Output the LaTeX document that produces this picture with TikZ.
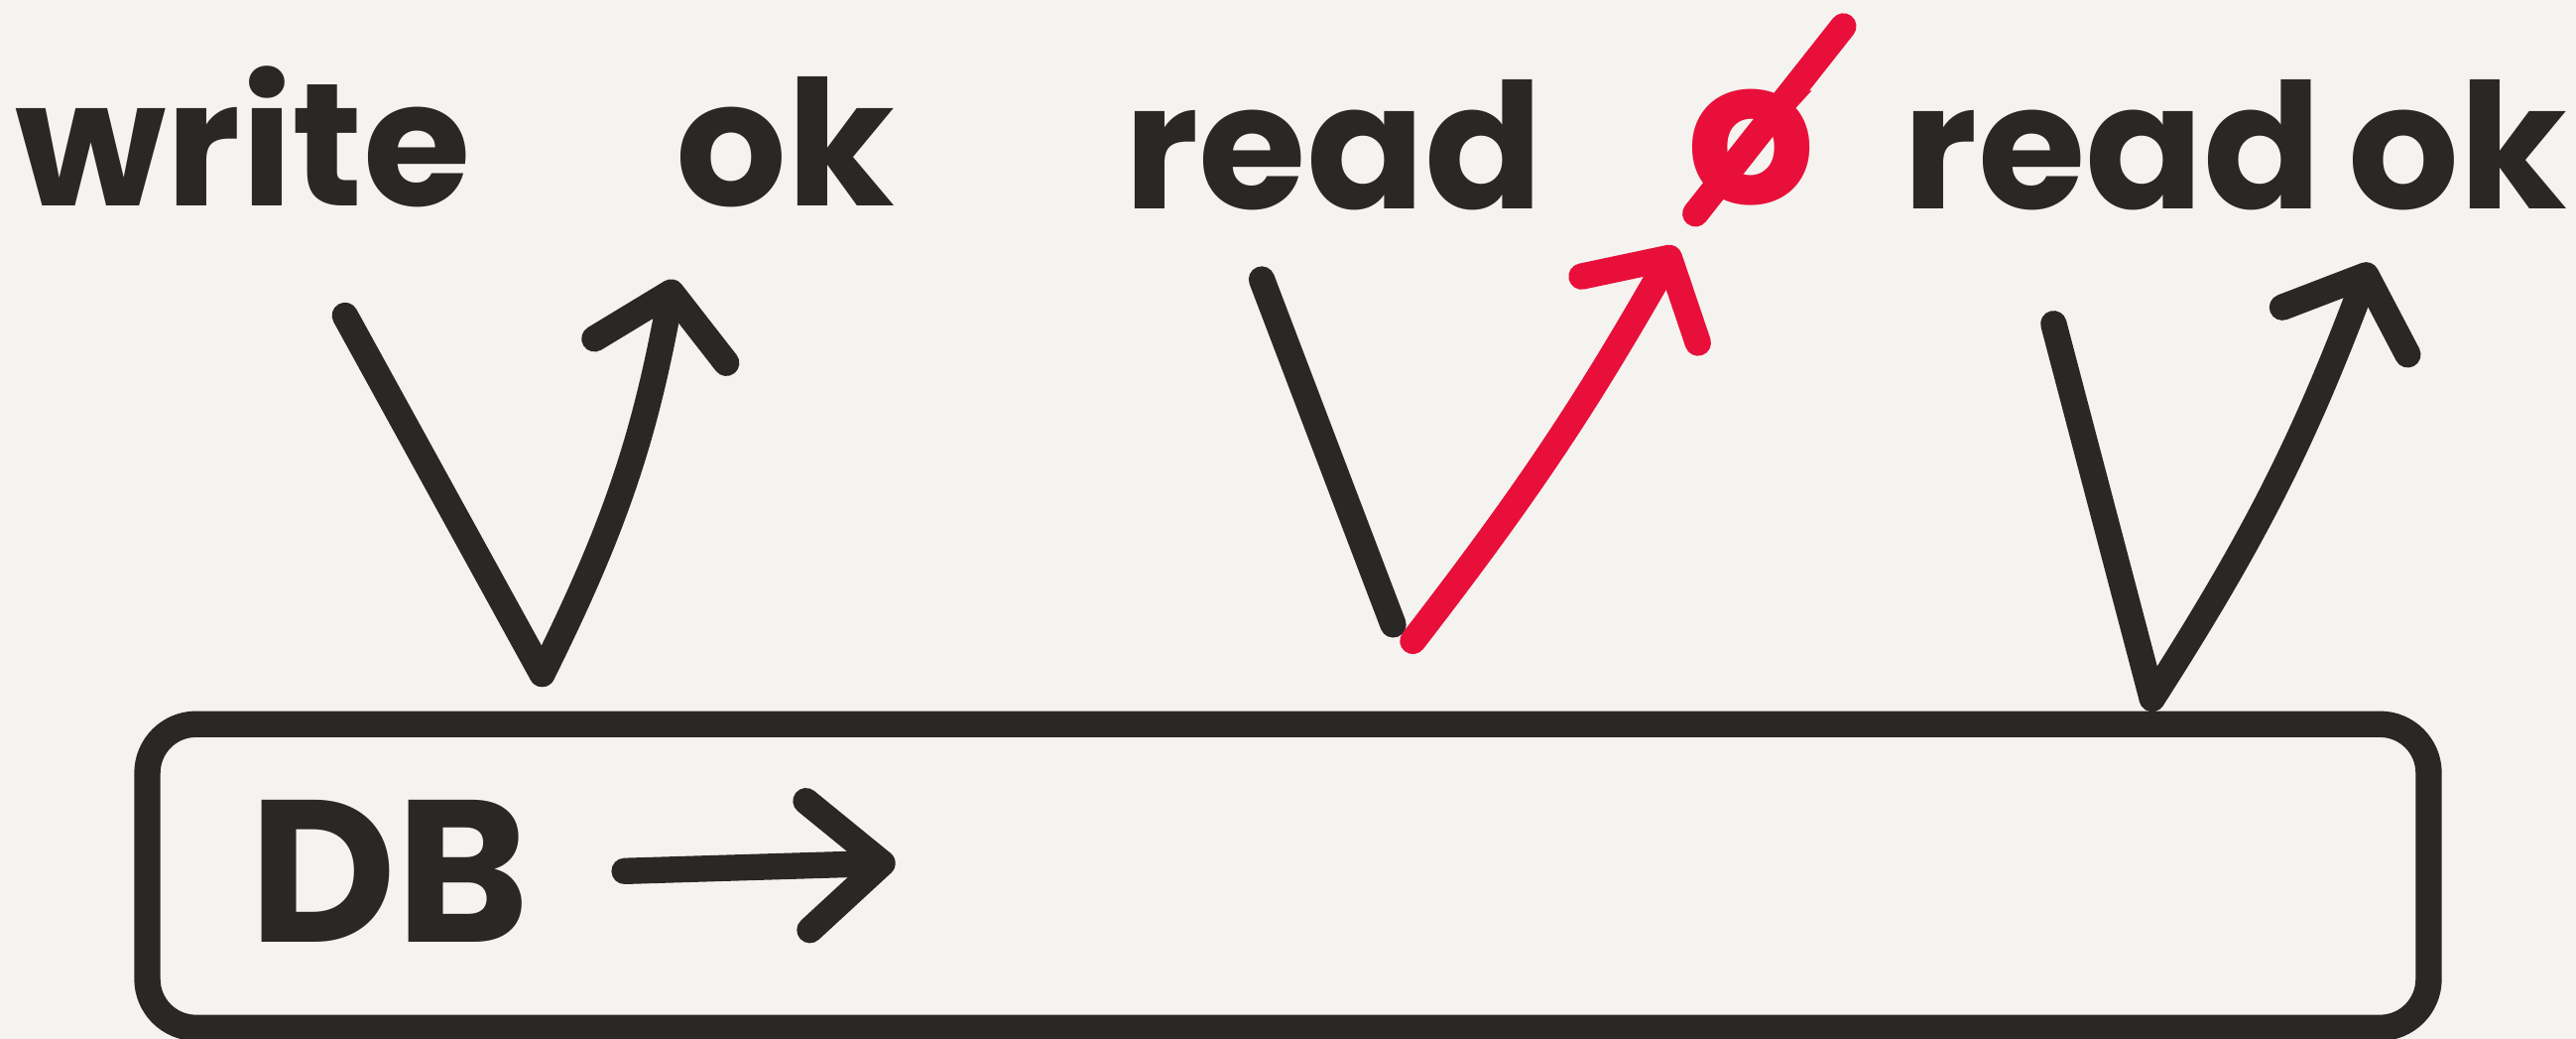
\documentclass[tikz,border=0pt]{standalone}
\usepackage{fontspec}
\setmainfont{Poppins}
\usetikzlibrary{arrows.meta}
\definecolor{ink}{RGB}{42,39,39}
\definecolor{inkred}{RGB}{232,16,58}
\definecolor{paper}{RGB}{244,243,240}
\tikzset{
  pen/.style={draw=ink,line width=7.5pt,line cap=round,line join=round},
  redpen/.style={pen,draw=inkred},
  upArrow/.style={-{Straight Barb[length=0.6cm,width=1.35cm,round]}},
  word/.style={font=\fontsize{50}{50}\selectfont\bfseries,text=ink,inner sep=0pt,anchor=base},
}

\begin{document}
\begin{tikzpicture}[x=0.016563cm,y=-0.016563cm]
  \fill[paper] (0,0) rectangle (1568,632);
  \useasboundingbox (0,0) rectangle (1568,632);

  % labels on top
  \node[word] (write) at (148,125) {write};
  \node[word] (okA) at (478,125) {ok};
  \node[word] (readA) at (812,127) {read};
  \node[word,text=inkred,font=\fontsize{58}{58}\selectfont\bfseries,anchor=center] (none) at (1066,90) {ø};
  \node[word] (readB) at (1286,127) {read};
  \node[word] (okB) at (1496,127) {ok};

  % the database
  \node[pen,rounded corners=14pt,minimum width=22.99cm,minimum height=3.06cm] (db) at (784,533) {};
  \node[font=\fontsize{58}{58}\selectfont\bfseries,text=ink,inner sep=0pt] (dbname) at (237,530) {DB};
  \coordinate (flowEnd) at (545,525);
  \draw[pen,-{Straight Barb[length=0.75cm,width=1.3cm,round]}] ([xshift=0.95cm]dbname.east) -- (flowEnd);

  % write, then ok
  \coordinate (wTop) at (210,192);
  \coordinate (wLow) at (330,410);
  \coordinate (okTipA) at (410,170);
  \draw[pen] (wTop) -- (wLow);
  \draw[pen,upArrow] (wLow) to[bend right=8] (okTipA);

  % read, nothing comes back
  \coordinate (rTop) at (768,170);
  \coordinate (rLow) at (848,380);
  \coordinate (nLow) at (860,390);
  \coordinate (nTip) at (1020,150);
  \coordinate (slashLow) at (1032,130);
  \coordinate (slashHigh) at (1122,16);
  \draw[pen] (rTop) -- (rLow);
  \draw[redpen,upArrow] (nLow) to[bend right=4] (nTip);
  \draw[redpen] (slashLow) -- (slashHigh);

  % read, then ok
  \coordinate (r2Top) at (1250,197);
  \coordinate (r2Low) at (1310,425);
  \coordinate (okTipB) at (1443,160);
  \draw[pen] (r2Top) -- (r2Low);
  \draw[pen,upArrow] (r2Low) to[bend right=6] (okTipB);
\end{tikzpicture}
\end{document}
